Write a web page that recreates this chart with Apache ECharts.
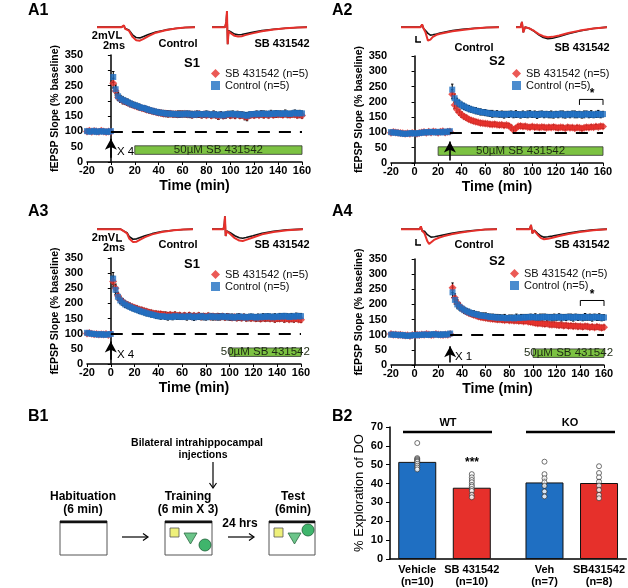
<!DOCTYPE html>
<html><head><meta charset="utf-8">
<script src="https://cdn.jsdelivr.net/npm/echarts@6/dist/echarts.min.js"></script>
<style>html,body{margin:0;padding:0;background:#fff}#c{width:628px;height:588px}</style>
</head><body><div id="c"></div>
<script>
// ---------------- DATA ----------------
const timeMin = [-20,-18,-16,-14,-12,-10,-8,-6,-4,-2,0,2,4,6,8,10,12,14,16,18,20,22,24,26,28,30,32,34,36,38,40,42,44,46,48,50,52,54,56,58,60,62,64,66,68,70,72,74,76,78,80,82,84,86,88,90,92,94,96,98,100,102,104,106,108,110,112,114,116,118,120,122,124,126,128,130,132,134,136,138,140,142,144,146,148,150,152,154,156,158,160];
const xTicks = [-20,0,20,40,60,80,100,120,140,160];

const ctrlA1 = [101,99,100,102,98,100,101,99,100,98,101,
278,238,215,207,203,199,196,192,188,186,
183,180,177,176,173,170,168,166,164,162,
161,160,158,159,157,158,156,157,155,158,
156,159,155,157,154,158,156,157,155,158,
156,154,157,155,153,156,152,155,157,156,
158,155,157,154,156,153,151,155,157,156,
158,156,159,157,158,156,159,157,160,158,
159,157,160,158,157,159,161,158,160,159];
const sbA1 = [100,102,99,101,100,99,102,100,98,100,99,
258,232,212,205,200,197,194,190,187,184,
181,179,176,174,171,169,167,165,163,161,
160,158,159,157,158,156,157,155,157,156,
158,155,157,154,156,155,157,154,156,153,
155,152,155,153,150,154,151,153,155,152,
154,152,155,151,153,149,147,152,154,153,
155,153,156,154,155,153,156,154,156,155,
156,154,157,155,154,156,155,153,155,152];
const semCtrlA1 = [4,3,4,4,3,4,3,4,4,3,4,
18,14,12,11,10,10,10,9,9,9,
9,9,8,9,8,9,8,9,8,9,
8,9,10,8,9,8,9,10,8,9,
9,8,10,9,8,9,10,8,9,9,
8,9,10,9,8,9,10,8,9,10,
9,8,9,10,8,9,11,9,8,9,
9,8,9,10,8,9,10,9,8,9,
8,9,10,8,9,8,9,10,9,8];
const semSbA1 = [4,4,3,4,3,4,4,3,4,4,3,
16,13,11,10,10,9,9,9,9,8,
8,9,8,8,9,8,8,9,8,8,
9,8,9,10,8,9,8,9,10,9,
8,9,9,10,8,9,8,10,9,8,
9,8,10,9,11,8,9,10,8,9,
8,10,9,8,9,11,12,9,8,9,
9,8,9,10,8,9,8,9,10,8,
9,8,9,10,8,9,8,9,10,9];

const ctrlA2 = [101,99,100,98,97,96,95,96,97,98,96,97,98,99,100,101,100,102,101,100,102,101,100,103,101,104,
240,212,200,194,189,185,181,178,175,173,
171,169,167,166,165,163,162,161,160,161,
159,160,158,160,159,161,158,160,159,157,
160,158,159,161,158,160,157,159,161,158,
160,158,159,157,160,158,161,159,157,160,
158,161,159,158,160,157,159,161,158,160,
157,159,161,158,160];
const sbA2 = [99,101,100,99,98,97,96,97,96,98,97,96,98,100,101,99,102,100,103,101,99,102,104,100,102,103,
225,190,175,165,158,152,148,143,140,137,
135,133,131,130,129,128,127,126,127,125,
124,125,123,124,122,116,108,114,120,121,
119,120,118,117,119,117,118,116,118,117,
115,117,116,118,116,115,117,116,114,117,
115,116,114,116,115,113,115,117,116,118,
117,119,118,120,119];
const semCtrlA2 = [5,4,5,6,5,4,5,6,5,4,5,6,5,4,5,5,4,6,5,4,5,6,5,4,5,6,
18,14,12,11,10,10,9,10,9,9,
10,9,10,9,10,9,10,11,9,10,
9,10,11,9,10,9,10,11,9,10,
10,9,11,10,9,10,11,10,9,10,
9,10,11,10,9,10,9,11,10,9,
10,9,11,10,9,10,11,9,10,11,
9,10,11,10,9];
const semSbA2 = [4,5,4,5,6,4,5,4,5,6,4,5,4,5,6,4,5,4,5,6,4,5,4,5,6,5,
15,12,10,9,9,8,8,7,7,7,
7,6,7,6,7,6,7,6,7,6,
7,6,7,6,7,8,9,7,6,7,
6,7,6,7,6,7,6,7,6,7,
6,7,6,7,6,7,6,7,6,7,
6,7,6,7,6,7,6,7,6,7,
6,7,6,7,6];

const ctrlA3 = [103,101,100,99,98,97,99,96,98,97,99,
282,245,222,210,203,197,193,189,185,182,
179,176,173,171,168,166,164,162,160,158,
157,158,156,155,157,155,158,156,157,155,
157,155,158,156,154,157,155,158,156,154,
156,158,155,157,154,156,158,155,157,154,
156,153,155,157,154,156,153,155,157,155,
153,156,154,157,155,158,156,154,157,155,
158,156,159,157,155,158,156,159,157,158];
const sbA3 = [101,102,100,98,99,97,98,97,99,96,100,
272,250,225,212,206,200,196,192,189,186,
183,180,178,176,173,171,169,167,166,164,
165,163,162,161,163,160,162,159,161,158,
160,158,161,157,159,157,160,156,158,157,
159,156,158,155,157,155,157,154,156,155,
153,155,152,154,152,154,151,153,151,152,
150,152,149,151,150,152,149,151,148,150,
149,151,148,150,147,149,148,150,147,146];
const semCtrlA3 = [4,4,3,4,4,3,4,4,3,4,4,
20,15,12,11,10,10,9,9,9,9,
8,9,8,9,9,8,9,8,9,8,
9,8,9,10,8,9,8,9,10,8,
9,10,8,9,10,9,8,9,10,9,
8,9,10,8,9,10,9,8,9,10,
9,8,10,9,8,9,10,9,8,9,
10,9,8,9,10,8,9,10,9,8,
9,10,8,9,10,9,8,9,10,9];
const semSbA3 = [3,4,4,3,4,4,3,4,4,3,4,
18,14,12,10,10,9,9,9,8,8,
9,8,9,8,9,8,9,8,9,10,
8,9,10,9,8,9,10,9,8,9,
9,8,9,10,9,8,9,10,9,8,
9,10,8,9,10,9,8,9,10,8,
9,8,9,10,9,8,9,10,9,8,
9,10,9,8,9,10,8,9,10,9,
8,9,10,9,8,9,10,9,8,9];

const ctrlA4 = [100,101,99,100,98,99,97,96,97,98,99,98,100,99,101,100,99,101,102,100,101,99,102,100,101,104,
240,215,200,192,186,181,177,174,171,169,
167,165,163,162,161,160,158,159,157,156,
157,155,156,154,155,156,154,157,155,157,
156,158,157,159,157,158,156,158,157,159,
157,158,156,158,157,159,156,158,157,159,
158,156,159,157,158,156,159,157,158,156,
159,157,158,156,157];
const sbA4 = [102,100,101,99,100,98,97,98,96,99,98,100,99,101,100,102,101,99,100,102,101,100,99,101,100,102,
255,222,205,195,186,180,175,171,168,165,
163,160,158,157,155,154,153,152,151,150,
150,149,148,149,147,148,146,147,145,146,
144,145,143,142,140,139,137,138,136,135,
136,134,133,134,132,131,132,130,131,129,
130,128,129,127,128,126,128,127,125,126,
124,126,125,123,125];
const semCtrlA4 = [5,4,5,4,6,5,4,5,6,4,5,4,5,6,4,5,4,5,6,4,5,4,5,6,4,5,
17,14,12,11,10,10,9,10,9,10,
9,10,9,10,11,9,10,9,10,11,
9,10,11,9,10,9,10,11,9,10,
11,9,10,9,10,11,9,10,11,9,
10,9,11,10,9,10,11,9,10,9,
10,11,9,10,9,10,11,9,10,11,
9,10,11,10,9];
const semSbA4 = [4,5,4,5,4,6,4,5,4,5,4,6,4,5,4,5,4,6,4,5,4,5,4,6,4,5,
16,13,11,10,9,9,8,8,8,8,
7,8,7,8,7,8,7,8,7,8,
7,8,7,8,7,8,7,8,7,8,
7,8,7,8,7,8,7,8,7,8,
7,8,7,8,7,8,7,8,7,8,
7,8,7,8,7,8,7,8,7,8,
7,8,7,8,7];

const bracketA2 = [[140,190],[140,208],[160,208],[160,190]];
const bracketA4 = [[140,195],[140,213],[160,213],[160,195]];

// trace data (ms, mV): black = baseline, red = after induction
const trA1cT = [0,10,11,11.5,12,13,14.5,16,17.5,19,21,24,28,32,36,40];
const trA1cK = [0,0,0.4,-0.4,0,-0.8,-2.2,-3.0,-3.1,-2.7,-2.1,-1.4,-0.8,-0.4,-0.1,0];
const trA1cR = [0,0,0.5,-0.5,0,-1.0,-2.8,-3.8,-3.9,-3.4,-2.6,-1.6,-0.9,-0.4,-0.1,0];
const trA1sT = [0,5.5,6,6.3,6.6,7,8,9.5,11,12.5,14,17,21,26,31,36,40];
const trA1sK = [0,0,1.5,4.6,-4.9,-1.0,-1.4,-2.0,-2.2,-2.1,-1.9,-1.5,-1.0,-0.6,-0.3,-0.1,0];
const trA1sR = [0,0,1.5,4.6,-4.9,-1.2,-1.8,-2.5,-2.7,-2.6,-2.3,-1.8,-1.2,-0.7,-0.3,-0.1,0];
const trA2cT = [0,8,8.6,9.2,10,11,12,13,14.5,16,18,21,25,30,35,40];
const trA2cK = [0,0,0.8,-0.4,-1.0,-1.8,-2.3,-2.2,-2.0,-1.7,-1.4,-1.0,-0.6,-0.3,-0.1,0];
const trA2cR = [0,0,0.8,-0.4,-1.5,-3.9,-3.6,-2.8,-2.2,-1.9,-1.6,-1.2,-0.8,-0.4,-0.1,0];
const trA2sT = [0,2,2.6,3.2,4,6,8,10,12,14,16,19,23,28,34,40];
const trA2sK = [0,0,1.5,-1.5,0,-0.4,-1.2,-2.2,-3.0,-3.3,-3.2,-2.7,-1.9,-1.1,-0.4,0];
const trA2sR = [0,0,1.5,-1.5,0,-0.4,-1.1,-2.0,-2.6,-2.9,-2.8,-2.4,-1.7,-1.0,-0.4,0];
const trA3cT = [0,9.8,10.4,11,11.6,12.5,13.5,15,16.5,18,20,23,27,32,36,40];
const trA3cK = [0,0,0.5,-0.5,0,-1.0,-2.2,-2.9,-2.8,-2.4,-1.9,-1.3,-0.7,-0.3,-0.1,0];
const trA3cR = [0,0,0.5,-0.5,0,-1.2,-2.8,-3.7,-3.6,-3.0,-2.3,-1.5,-0.8,-0.3,-0.1,0];
const trA3sT = [0,5,5.4,5.7,6.0,6.5,8,10,12,13.5,15,18,22,27,33,40];
const trA3sK = [0,0,1.2,3.7,-2.0,-0.5,-1.0,-1.9,-2.5,-2.6,-2.4,-1.9,-1.2,-0.6,-0.2,0];
const trA3sR = [0,0,1.2,3.7,-2.0,-0.6,-1.4,-2.6,-3.3,-3.4,-3.1,-2.4,-1.5,-0.8,-0.3,0];
const trA4cT = [0,7.8,8.3,8.8,9.8,11,11.7,12.5,14,16,18,21,25,30,35,40];
const trA4cK = [0,0,0.8,-0.5,-0.6,-1.6,-2.1,-2.3,-2.2,-1.9,-1.6,-1.2,-0.8,-0.4,-0.1,0];
const trA4cR = [0,0,0.8,-0.5,-1.2,-3.5,-4.3,-3.8,-3.0,-2.4,-2.0,-1.5,-1.0,-0.5,-0.1,0];
const trA4sT = [0,6,6.6,7.2,8,9.5,11,12.3,14,16,19,23,28,34,40];
const trA4sK = [0,0,1.2,-1.2,-0.3,-1.2,-2.0,-2.3,-2.2,-2.0,-1.6,-1.1,-0.6,-0.2,0];
const trA4sR = [0,0,1.2,-1.2,-0.4,-1.6,-2.6,-2.9,-2.8,-2.5,-2.0,-1.4,-0.8,-0.3,0];

// B2
const b2Categories = ['Vehicle\n(n=10)','SB 431542\n(n=10)','Veh\n(n=7)','SB431542\n(n=8)'];
const b2Means = [51.5, 37.8, 40.6, 40.3];
const b2Sem = [1.3, 1.2, 2.2, 1.9];
const b2DotsVehicleWT = [61.5,53.5,53,52.5,52,51.5,50.5,49.5,48.5,47.5];
const b2DotsSbWT = [45,43.3,41.9,40.7,39.3,38.4,37.1,36.1,34,32.7];
const b2DotsVehKO = [51.6,45,42.8,40.7,38.8,35.8,33.2];
const b2DotsSbKO = [49.2,45.6,43.3,41,38.9,36.6,34,32.2];
const b2YTicks = [0,10,20,30,40,50,60,70];

// ---------------- STYLE / LAYOUT ----------------
const FONT = '"Liberation Sans", Arial, Helvetica, sans-serif';
const BLUE = '#1f6fc2', RED = '#e6302b', GREEN = '#7cc242';
const SB_NAME = 'SB 431542 (n=5)', CTRL_NAME = 'Control (n=5)';

const panels = [
  {grid:{left:87,top:55,width:215,height:107}, ctrl:ctrlA1, sb:sbA1, cs:semCtrlA1, ss:semSbA1, stim:0, drug:[20,160], arrow:[14,76], leg:[211,68], bracket:null},
  {grid:{left:391,top:56,width:212,height:107}, ctrl:ctrlA2, sb:sbA2, cs:semCtrlA2, ss:semSbA2, stim:30, drug:[20,160], arrow:[8,70], leg:[512,68], bracket:bracketA2},
  {grid:{left:87,top:258,width:214,height:106}, ctrl:ctrlA3, sb:sbA3, cs:semCtrlA3, ss:semSbA3, stim:0, drug:[100,160], arrow:[14,74], leg:[211,269], bracket:null},
  {grid:{left:391,top:259,width:213,height:106}, ctrl:ctrlA4, sb:sbA4, cs:semCtrlA4, ss:semSbA4, stim:30, drug:[100,160], arrow:[8,62], leg:[510,268], bracket:bracketA4}
];
const traces = [
  {grid:{left:97,top:8,width:98,height:40}, t:trA1cT, k:trA1cK, r:trA1cR},
  {grid:{left:212,top:8,width:95,height:40}, t:trA1sT, k:trA1sK, r:trA1sR},
  {grid:{left:401,top:8,width:98,height:40}, t:trA2cT, k:trA2cK, r:trA2cR},
  {grid:{left:516,top:8,width:91,height:40}, t:trA2sT, k:trA2sK, r:trA2sR},
  {grid:{left:97,top:210,width:96,height:40}, t:trA3cT, k:trA3cK, r:trA3cR},
  {grid:{left:212,top:210,width:91,height:40}, t:trA3sT, k:trA3sK, r:trA3sR},
  {grid:{left:401,top:210,width:96,height:40}, t:trA4cT, k:trA4cK, r:trA4cR},
  {grid:{left:516,top:210,width:91,height:40}, t:trA4sT, k:trA4sK, r:trA4sR}
];

const grids = [], xAxes = [], yAxes = [], series = [], legends = [];

function errSeries(xi, pts) {
  return {type:'custom', xAxisIndex:xi, yAxisIndex:xi, z:1, silent:true, data:pts, encode:{x:0,y:1},
    renderItem:(p, api) => {
      const x = api.value(0), y = api.value(1), e = api.value(2);
      const a = api.coord([x, y - e]), b = api.coord([x, y + e]);
      return {type:'group', children:[
        {type:'line', shape:{x1:a[0],y1:a[1],x2:b[0],y2:b[1]}, style:{stroke:'#000', lineWidth:1.1}},
        {type:'line', shape:{x1:a[0]-1.2,y1:a[1],x2:a[0]+1.2,y2:a[1]}, style:{stroke:'#000', lineWidth:1}},
        {type:'line', shape:{x1:b[0]-1.2,y1:b[1],x2:b[0]+1.2,y2:b[1]}, style:{stroke:'#000', lineWidth:1}}
      ]};
    }};
}

panels.forEach((p, i) => {
  grids.push(p.grid);
  xAxes.push({gridIndex:i, type:'value', min:-20, max:160, interval:20,
    axisLine:{lineStyle:{color:'#000', width:1.5}}, axisTick:{length:3, lineStyle:{color:'#000', width:1}},
    axisLabel:{color:'#000', fontSize:11, fontWeight:'bold', fontFamily:FONT, margin:3},
    splitLine:{show:false}, name:'Time (min)', nameLocation:'middle', nameGap:17,
    nameTextStyle:{color:'#000', fontSize:14, fontWeight:'bold', fontFamily:FONT}});
  yAxes.push({gridIndex:i, type:'value', min:0, max:350, interval:50,
    axisLine:{show:true, lineStyle:{color:'#000', width:1.5}}, axisTick:{show:true, length:3, lineStyle:{color:'#000'}},
    axisLabel:{color:'#000', fontSize:11, fontWeight:'bold', fontFamily:FONT, margin:4},
    splitLine:{show:false}, name:'fEPSP Slope (% baseline)', nameLocation:'middle', nameGap:23,
    nameTextStyle:{color:'#000', fontSize:10.5, fontWeight:'bold', fontFamily:FONT}});
  const sbPts = timeMin.map((t, j) => [t, p.sb[j], p.ss[j]]);
  const cPts = timeMin.map((t, j) => [t, p.ctrl[j], p.cs[j]]);
  series.push(errSeries(i, sbPts));
  series.push(errSeries(i, cPts));
  series.push({type:'scatter', name:SB_NAME, xAxisIndex:i, yAxisIndex:i, z:3, symbol:'diamond', symbolSize:8,
    itemStyle:{color:RED}, data:sbPts.map(d => [d[0], d[1]]), silent:true,
    markArea:{silent:true, itemStyle:{color:GREEN, borderColor:'#333', borderWidth:0.8},
      label:{show:true, position:'inside', formatter:'50\u00b5M SB 431542', color:'#1e2a14', fontSize:11.5, fontFamily:FONT},
      data:[[{coord:[p.drug[0], 25]}, {coord:[p.drug[1], 53]}]]},
    markLine:{silent:true, animation:false, label:{show:false}, symbolSize:[9,11],
      data:[
        [{coord:[p.stim, 100], symbol:'none', lineStyle:{color:'#000', width:2.2, type:[12,9]}}, {coord:[160, 100], symbol:'none'}],
        [{coord:[p.stim, p.arrow[0]], symbol:'none', lineStyle:{color:'#000', width:1.6, type:'solid'}}, {coord:[p.stim, p.arrow[1]], symbol:'arrow'}]
      ]}});
  series.push({type:'scatter', name:CTRL_NAME, xAxisIndex:i, yAxisIndex:i, z:4, symbol:'rect', symbolSize:6,
    itemStyle:{color:BLUE}, data:cPts.map(d => [d[0], d[1]]), silent:true});
  if (p.bracket) series.push({type:'line', xAxisIndex:i, yAxisIndex:i, z:5, data:p.bracket, symbol:'none', silent:true,
    lineStyle:{color:'#000', width:1}});
  legends.push({left:p.leg[0], top:p.leg[1], orient:'vertical', itemGap:1, itemWidth:9, itemHeight:9, padding:0,
    selectedMode:false, textStyle:{fontSize:11, color:'#111', fontFamily:FONT},
    data:[{name:SB_NAME, icon:'diamond', itemStyle:{color:RED}}, {name:CTRL_NAME, icon:'rect', itemStyle:{color:BLUE}}]});
});

// B2 bar chart (index 4)
const slotOf = [1,4,8,11], N_SLOTS = 13;
const b2Colors = [BLUE, RED, BLUE, RED];
const b2Dots = [b2DotsVehicleWT, b2DotsSbWT, b2DotsVehKO, b2DotsSbKO];
const b2Axis = new Array(N_SLOTS).fill('');
slotOf.forEach((s, i) => b2Axis[s] = b2Categories[i]);
const b2Bars = new Array(N_SLOTS).fill(null);
slotOf.forEach((s, i) => b2Bars[s] = {value:b2Means[i], itemStyle:{color:b2Colors[i]}});
grids.push({left:390, top:427, width:237, height:132});
xAxes.push({gridIndex:4, type:'category', data:b2Axis, axisTick:{show:false},
  axisLine:{lineStyle:{color:'#000', width:1.5}},
  axisLabel:{interval:0, color:'#000', fontSize:11, fontWeight:'bold', fontFamily:FONT, margin:5, lineHeight:12}});
yAxes.push({gridIndex:4, type:'value', min:0, max:70, interval:10, splitLine:{show:false},
  axisLine:{show:true, lineStyle:{color:'#000', width:1.5}}, axisTick:{show:true, length:4, lineStyle:{color:'#000'}},
  axisLabel:{color:'#000', fontSize:11, fontWeight:'bold', fontFamily:FONT, margin:7},
  name:'% Exploration of DO', nameLocation:'middle', nameGap:24,
  nameTextStyle:{color:'#000', fontSize:13, fontFamily:FONT}});
series.push({type:'bar', xAxisIndex:4, yAxisIndex:4, barWidth:38, data:b2Bars, silent:true,
  itemStyle:{borderColor:'#111', borderWidth:1}});
series.push(errSeries(4, slotOf.map((s, i) => [s, b2Means[i], b2Sem[i]])));
series[series.length - 1].z = 3;
const dotPts = [];
b2Dots.forEach((arr, i) => arr.forEach(v => dotPts.push([slotOf[i], v])));
series.push({type:'scatter', xAxisIndex:4, yAxisIndex:4, z:4, symbol:'circle', symbolSize:5, silent:true,
  itemStyle:{color:'#fff', borderColor:'#222', borderWidth:0.8}, data:dotPts});

// trace insets (index 5..12)
traces.forEach((tr, k) => {
  const gi = 5 + k;
  grids.push(tr.grid);
  xAxes.push({gridIndex:gi, type:'value', min:0, max:40, show:false});
  yAxes.push({gridIndex:gi, type:'value', min:-6, max:5.5, show:false});
  series.push({type:'line', xAxisIndex:gi, yAxisIndex:gi, symbol:'none', silent:true, z:2,
    lineStyle:{color:'#111', width:1.6}, data:tr.t.map((t, j) => [t, tr.k[j]])});
  series.push({type:'line', xAxisIndex:gi, yAxisIndex:gi, symbol:'none', silent:true, z:3,
    lineStyle:{color:RED, width:2}, data:tr.t.map((t, j) => [t, tr.r[j]])});
});

// ---------------- GRAPHIC (labels, diagram) ----------------
function T(x, y, text, size, weight, align, color) {
  return {type:'text', x, y, silent:true, style:{text, font:`${weight||'normal'} ${size}px ${FONT}`, fill:color||'#000',
    align:align||'left', verticalAlign:'middle'}};
}
function L(x1, y1, x2, y2, w, c) {
  return {type:'line', silent:true, shape:{x1, y1, x2, y2}, style:{stroke:c||'#000', lineWidth:w||1}};
}
function head(x, y, dir) {
  const pts = dir === 'right' ? [[x-5,y-3.5],[x,y],[x-5,y+3.5]] : [[x-3.5,y-5],[x,y],[x+3.5,y-5]];
  return {type:'polyline', silent:true, shape:{points:pts}, style:{stroke:'#000', lineWidth:1.2, fill:null}};
}
function box(x, y, w, h) {
  return [{type:'rect', silent:true, shape:{x, y, width:w, height:h}, style:{fill:'#fff', stroke:'#555', lineWidth:1}},
          L(x, y + 1, x + w, y + 1, 2.5, '#111')];
}
function objects(sq, tri, cir) {
  return [
    {type:'rect', silent:true, shape:{x:sq[0], y:sq[1], width:9, height:9}, style:{fill:'#eef07a', stroke:'#555', lineWidth:0.8}},
    {type:'polygon', silent:true, shape:{points:[[tri[0], tri[1]], [tri[0] + 13, tri[1]], [tri[0] + 6.5, tri[1] + 11]]}, style:{fill:'#6cc58a', stroke:'#2d6b43', lineWidth:0.8}},
    {type:'circle', silent:true, shape:{cx:cir[0], cy:cir[1], r:6}, style:{fill:'#3fb56c', stroke:'#1d5f36', lineWidth:0.8}}
  ];
}

const g = [
  T(28, 11, 'A1', 16, 'bold'), T(332, 11, 'A2', 16, 'bold'), T(28, 212, 'A3', 16, 'bold'), T(332, 212, 'A4', 16, 'bold'),
  T(28, 417, 'B1', 16, 'bold'), T(332, 417, 'B2', 16, 'bold'),
  // trace labels
  T(178, 44, 'Control', 11, 'bold', 'center'), T(282, 44, 'SB 431542', 11, 'bold', 'center'),
  T(474, 48, 'Control', 11, 'bold', 'center'), T(582, 48, 'SB 431542', 11, 'bold', 'center'),
  T(178, 245, 'Control', 11, 'bold', 'center'), T(282, 245, 'SB 431542', 11, 'bold', 'center'),
  T(474, 245, 'Control', 11, 'bold', 'center'), T(582, 245, 'SB 431542', 11, 'bold', 'center'),
  // scale bars
  T(115, 36, '2mV', 11, 'bold', 'right'), L(117, 31, 117, 38, 1.5), L(116.3, 38, 122, 38, 1.5), T(114, 46, '2ms', 11, 'bold', 'center'),
  T(115, 238, '2mV', 11, 'bold', 'right'), L(117, 234, 117, 241, 1.5), L(116.3, 241, 122, 241, 1.5), T(114, 248, '2ms', 11, 'bold', 'center'),
  L(416, 36, 416, 42, 1.5), L(415.3, 42, 421, 42, 1.5),
  L(416, 239, 416, 245, 1.5), L(415.3, 245, 421, 245, 1.5),
  // S1/S2
  T(192, 63, 'S1', 13, 'bold', 'center'), T(497, 61, 'S2', 13, 'bold', 'center'),
  T(192, 264, 'S1', 13, 'bold', 'center'), T(497, 261, 'S2', 13, 'bold', 'center'),
  // stimulation labels
  T(117, 152, 'X 4', 11.5), T(456, 152, 'X 1', 11.5), T(117, 355, 'X 4', 11.5), T(455, 357, 'X 1', 11.5),
  // significance stars
  T(592, 94, '*', 12, 'bold', 'center'), T(592, 295, '*', 12, 'bold', 'center'),
  // B1 diagram
  T(197, 443, 'Bilateral intrahippocampal', 10.5, 'bold', 'center'), T(203, 455, 'injections', 10.5, 'bold', 'center'),
  L(213, 462, 213, 487, 1.2), head(213, 488, 'down'),
  T(83, 497, 'Habituation', 12, 'bold', 'center'), T(83, 510, '(6 min)', 12, 'bold', 'center'),
  ...box(60, 521, 47, 34),
  L(122, 537, 147, 537, 1.2), head(148, 537, 'right'),
  T(188, 497, 'Training', 12, 'bold', 'center'), T(188, 510, '(6 min X 3)', 12, 'bold', 'center'),
  ...box(165, 521, 47, 34), ...objects([170, 528], [184, 533], [205, 545]),
  T(240, 524, '24 hrs', 12, 'bold', 'center'),
  L(228, 537, 253, 537, 1.2), head(254, 537, 'right'),
  T(293, 497, 'Test', 12, 'bold', 'center'), T(293, 510, '(6min)', 12, 'bold', 'center'),
  ...box(269, 521, 46, 34), ...objects([274, 528], [288, 533], [308, 530]),
  // B2 annotations
  L(403, 432, 492, 432, 2.5), T(448, 423, 'WT', 11, 'bold', 'center'),
  L(526, 432, 615, 432, 2.5), T(570, 423, 'KO', 11, 'bold', 'center'),
  T(472, 463, '***', 12, 'bold', 'center')
];

const chart = echarts.init(document.getElementById('c'), null, {renderer:'canvas'});
chart.setOption({
  animation:false, backgroundColor:'#fff',
  grid:grids, xAxis:xAxes, yAxis:yAxes, legend:legends, series, graphic:g
});
</script></body></html>
